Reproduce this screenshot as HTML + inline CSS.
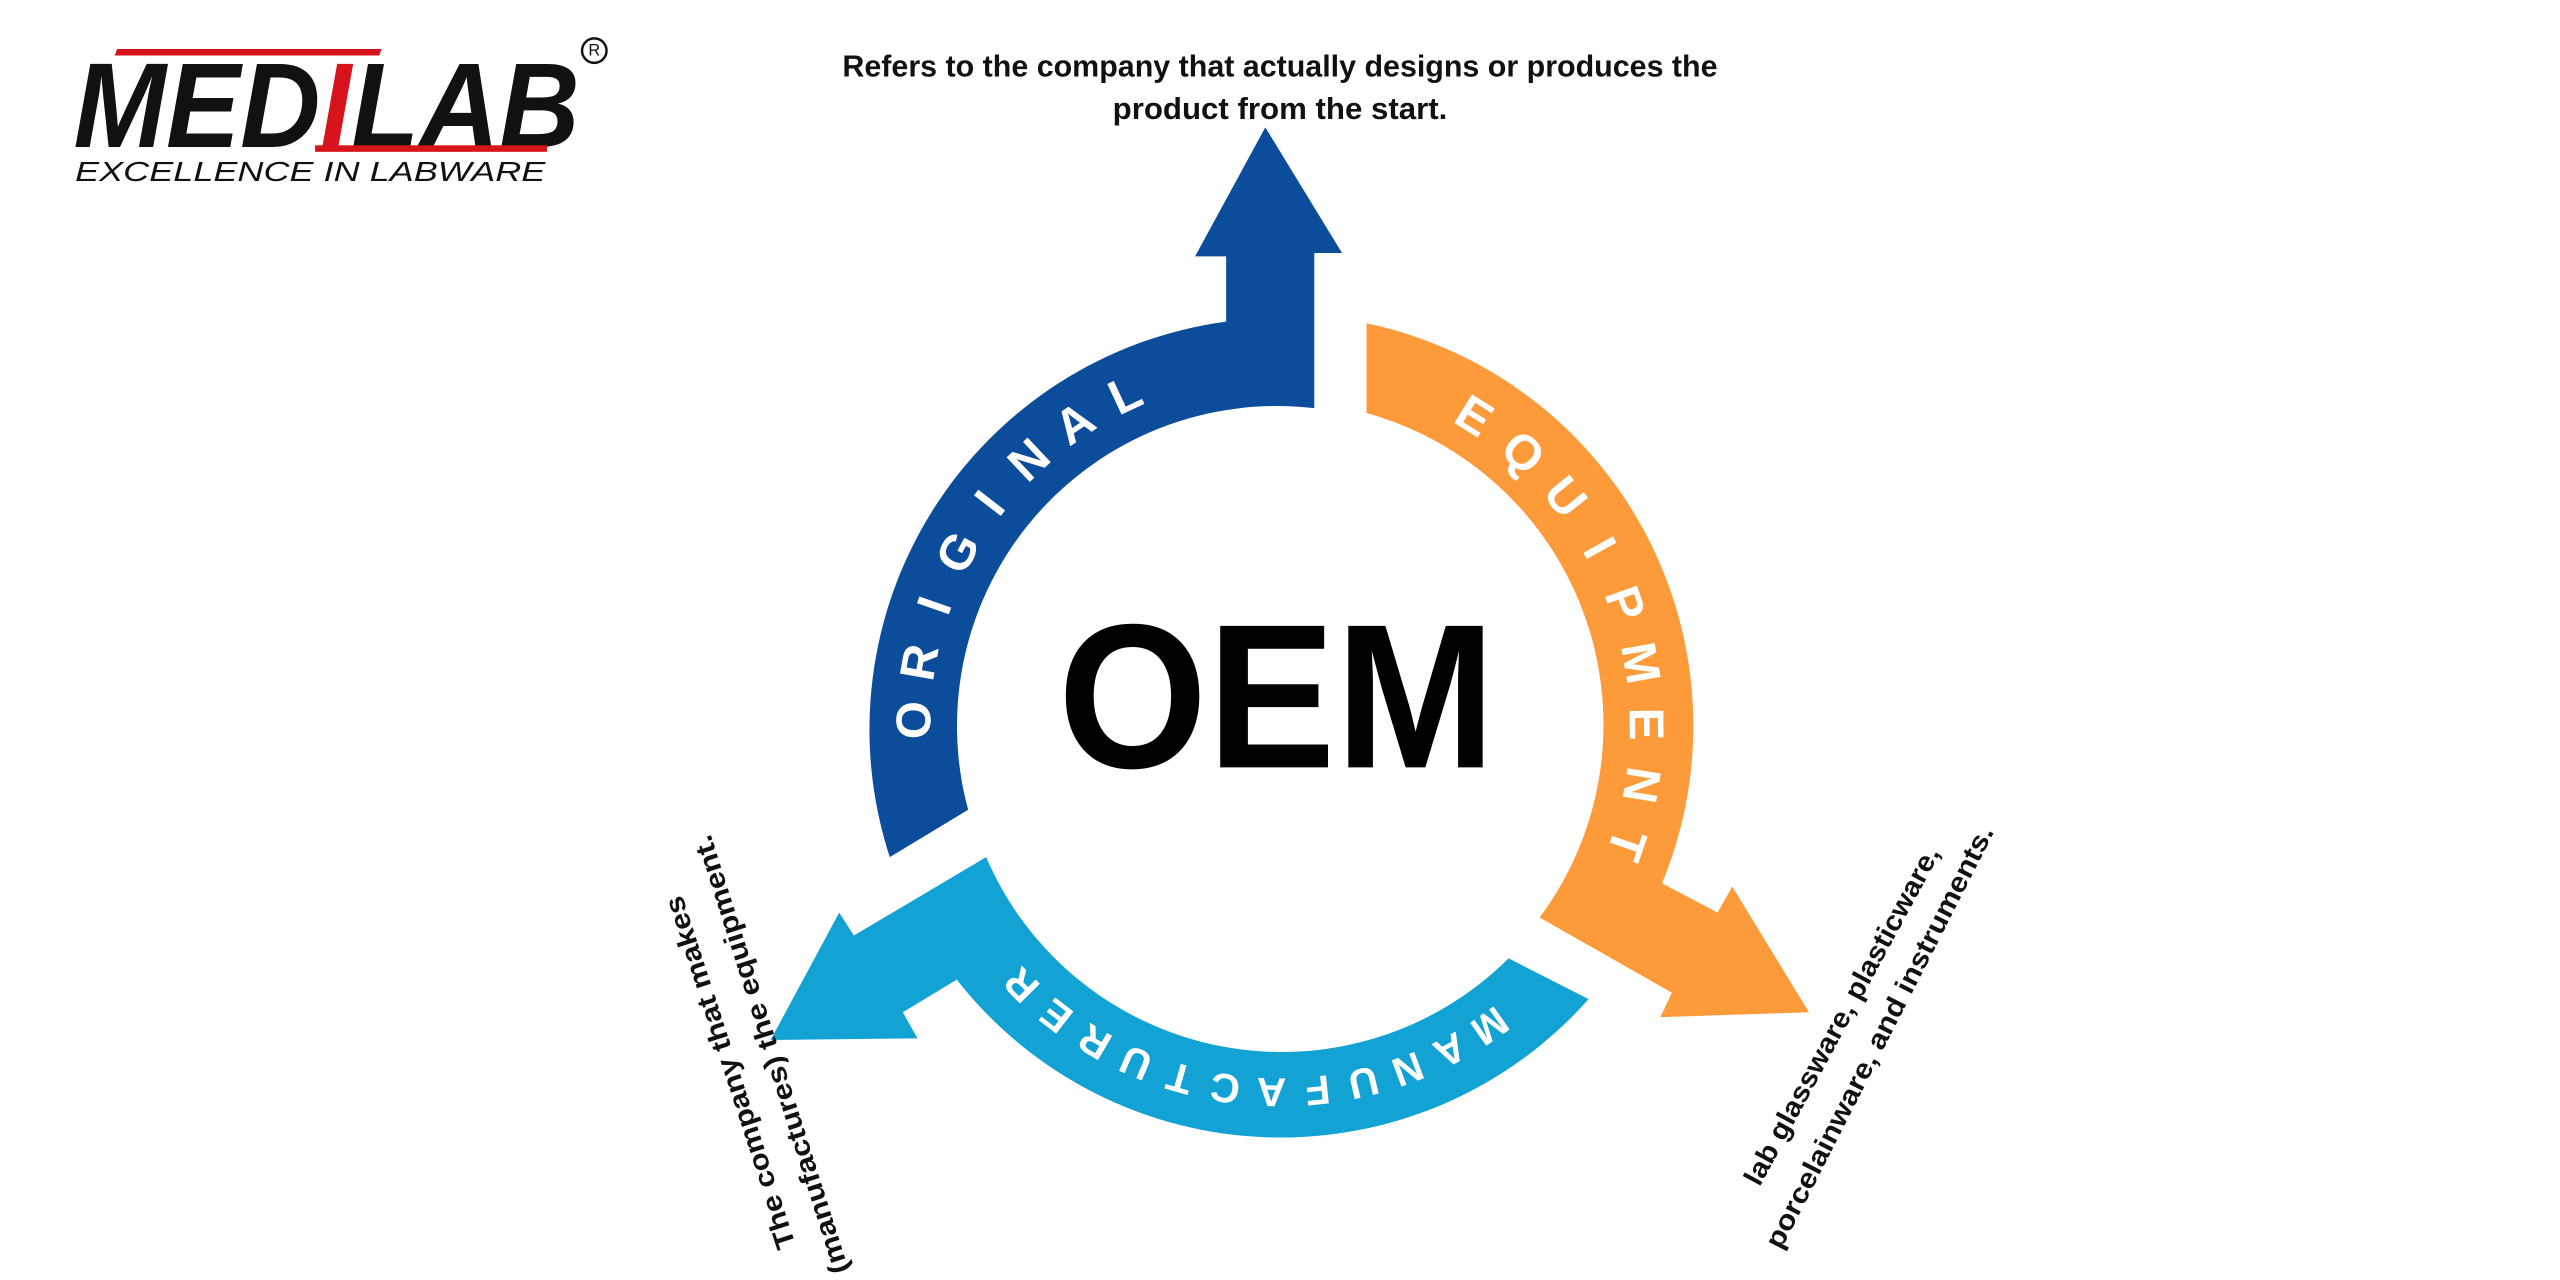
<!DOCTYPE html>
<html><head><meta charset="utf-8"><style>
html,body{margin:0;padding:0;background:#fff;}
svg{display:block;}
text{font-family:"Liberation Sans",sans-serif;}
</style></head><body>
<svg width="2560" height="1280" viewBox="0 0 1568 784" xmlns="http://www.w3.org/2000/svg">
<rect width="1568" height="784" fill="#fff"/>
<!-- Logo -->
<rect x="71" y="30" width="162" height="4" fill="#d7141c" transform="skewX(-20)" transform-origin="150 32"/>
<text x="45" y="90" font-size="74" font-weight="bold" font-style="italic" textLength="310" lengthAdjust="spacingAndGlyphs" fill="#111">MED<tspan fill="#d7141c">I</tspan>LAB</text>
<rect x="193" y="89" width="142" height="4" fill="#d7141c"/>
<text x="46" y="111" font-size="17" font-style="italic" textLength="288" lengthAdjust="spacingAndGlyphs" fill="#111">EXCELLENCE IN LABWARE</text>
<circle cx="364" cy="31" r="7.5" fill="none" stroke="#111" stroke-width="1.5"/>
<text x="364" y="31" font-size="10" text-anchor="middle" dominant-baseline="central" fill="#111">R</text>

<!-- Top text -->
<text x="784" y="47" font-size="18.5" font-weight="bold" text-anchor="middle" textLength="536" lengthAdjust="spacingAndGlyphs" fill="#111">Refers to the company that actually designs or produces the</text>
<text x="784" y="73" font-size="18.5" font-weight="bold" text-anchor="middle" textLength="205" lengthAdjust="spacingAndGlyphs" fill="#111">product from the start.</text>

<!-- Arrows -->
<path d="M545,525 A252,252 0 0 1 751,197 L751,157 L732,157 L775,78 L822,155 L805,155 L805,250 A196,196 0 0 0 593,496 Z" fill="#0b4d9a"/>
<path d="M837,198 A252,252 0 0 1 1018,541 L1052,559 L1061,543 L1108,620 L1017,623 L1024,608 L943,562 A198,198 0 0 0 837,253 Z" fill="#fd9a3a"/>
<path d="M973,612 A252,252 0 0 1 586,600 L553,620 L562,636 L472,637 L514,559 L523,573 L604,525 A197,197 0 0 0 924,587 Z" fill="#13a2d4"/>

<!-- Arc letters -->
<g fill="#fff" font-weight="bold" font-size="30" text-anchor="middle" dominant-baseline="central">
<text x="560" y="441.1" transform="rotate(271 560 441.1)">O</text>
<text x="563.5" y="405.7" transform="rotate(280.1 563.5 405.7)">R</text>
<text x="572.6" y="371" transform="rotate(289.3 572.6 371)">I</text>
<text x="587" y="338.5" transform="rotate(298.4 587 338.5)">G</text>
<text x="606.5" y="308.3" transform="rotate(307.6 606.5 308.3)">I</text>
<text x="630.4" y="282" transform="rotate(316.7 630.4 282)">N</text>
<text x="658.4" y="259.5" transform="rotate(325.9 658.4 259.5)">A</text>
<text x="689.3" y="242" transform="rotate(335 689.3 242)">L</text>

<text x="902.7" y="255" transform="rotate(32 902.7 255)">E</text>
<text x="932.7" y="277.5" transform="rotate(41.6 932.7 277.5)">Q</text>
<text x="958.6" y="304.6" transform="rotate(51.2 958.6 304.6)">U</text>
<text x="979.5" y="335.7" transform="rotate(60.8 979.5 335.7)">I</text>
<text x="995" y="369.9" transform="rotate(70.4 995 369.9)">P</text>
<text x="1004.6" y="406.1" transform="rotate(80 1004.6 406.1)">M</text>
<text x="1008" y="443.4" transform="rotate(89.6 1008 443.4)">E</text>
<text x="1005.1" y="480.8" transform="rotate(99.2 1005.1 480.8)">N</text>
<text x="996" y="517.2" transform="rotate(108.8 996 517.2)">T</text>
</g>
<g fill="#fff" font-weight="bold" font-size="25" text-anchor="middle" dominant-baseline="central">
<text x="912.5" y="628.5" transform="rotate(145 912.5 628.5)">M</text>
<text x="888.2" y="643.3" transform="rotate(152.27 888.2 643.3)">A</text>
<text x="862.3" y="654.9" transform="rotate(159.55 862.3 654.9)">N</text>
<text x="835.1" y="663.1" transform="rotate(166.82 835.1 663.1)">U</text>
<text x="807.1" y="667.8" transform="rotate(174.09 807.1 667.8)">F</text>
<text x="778.7" y="668.9" transform="rotate(181.36 778.7 668.9)">A</text>
<text x="750.4" y="666.5" transform="rotate(188.64 750.4 666.5)">C</text>
<text x="722.6" y="660.4" transform="rotate(195.91 722.6 660.4)">T</text>
<text x="695.8" y="650.9" transform="rotate(203.18 695.8 650.9)">U</text>
<text x="670.5" y="638.1" transform="rotate(210.45 670.5 638.1)">R</text>
<text x="646.9" y="622.2" transform="rotate(217.73 646.9 622.2)">E</text>
<text x="625.6" y="603.4" transform="rotate(225 625.6 603.4)">R</text>
</g>

<!-- OEM -->
<text x="782" y="470" font-size="126" font-weight="bold" text-anchor="middle" textLength="268" lengthAdjust="spacingAndGlyphs" fill="#000">OEM</text>

<!-- Left rotated text -->
<g font-size="17" font-weight="bold" fill="#111" text-anchor="middle" dominant-baseline="central">
<text x="447" y="657" transform="rotate(-108 447 657)" textLength="226" lengthAdjust="spacingAndGlyphs">The company that makes</text>
<text x="472" y="646" transform="rotate(-107.6 472 646)" textLength="281" lengthAdjust="spacingAndGlyphs">(manufactures) the equipment.</text>
<text x="1128" y="622" transform="rotate(-61.6 1128 622)" textLength="233" lengthAdjust="spacingAndGlyphs">lab glassware, plasticware,</text>
<text x="1151" y="635" transform="rotate(-63 1151 635)" textLength="288" lengthAdjust="spacingAndGlyphs">porcelainware, and instruments.</text>
</g>
</svg>
</body></html>
